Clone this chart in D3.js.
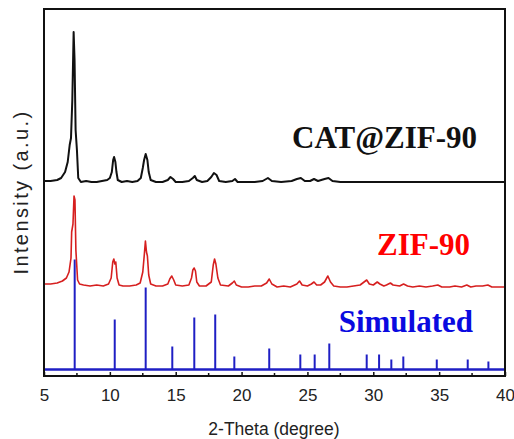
<!DOCTYPE html>
<html><head><meta charset="utf-8">
<script src="https://cdn.jsdelivr.net/npm/d3@7"></script>
<style>body{margin:0;background:#fff}</style>
</head><body>
<svg id="c" width="514" height="439"></svg>
<script>
// 2-Theta ticks
const xTicks = [5,10,15,20,25,30,35,40];
const xMinor = [7.5,12.5,17.5,22.5,27.5,32.5,37.5];
// Simulated stick pattern: positions and intensities (a.u.)
const simPos = [7.33,10.37,12.72,14.74,16.41,18.0,19.45,22.1,24.46,25.55,26.66,29.5,30.44,31.37,32.28,34.82,37.17,38.74];
const simInt = [110,50,82,23,52,55,13,21,15,15,26,15,15,10,13,10,10,8];
// ZIF-90 pattern
const zifX = [5.0,5.5,6.0,6.4,6.7,6.9,7.05,7.1,7.2,7.28,7.35,7.42,7.55,7.7,8.0,8.5,9.0,9.5,9.9,10.1,10.22,10.3,10.38,10.45,10.55,10.7,11.0,11.5,12.0,12.3,12.5,12.62,12.7,12.78,12.85,12.95,13.1,13.5,14.0,14.4,14.55,14.7,14.85,15.0,15.5,16.0,16.2,16.3,16.4,16.5,16.6,16.8,17.3,17.7,17.85,17.95,18.05,18.2,18.4,19.0,19.3,19.45,19.6,20.0,20.5,21.0,21.5,21.9,22.1,22.3,22.7,23.2,23.7,24.2,24.4,24.6,25.0,25.3,25.5,25.7,26.0,26.3,26.55,26.75,27.0,27.5,28.0,28.5,29.0,29.3,29.5,29.7,30.0,30.3,30.5,30.8,31.0,31.3,31.5,32.0,32.3,32.6,33.0,33.5,34.0,34.5,34.9,35.2,35.8,36.2,36.7,37.1,37.4,37.8,38.3,38.7,39.0,39.5,40.0];
const zifY = [2,2,3,5,8,14,28,54,62,90,86,36,6,2,1,0,1,0,2,8,24,27,22,24,8,1,0,0,1,3,14,32,45,34,30,11,2,0,0,2,7,10,6,1,0,1,8,16,18,15,4,0,0,4,21,27,22,8,1,0,3,5,1,-1,-1,0,0,3,7,2,-1,0,-1,2,5,1,0,2,4,1,1,4,10,4,0,-1,-1,0,1,4,6,2,1,4,2,0,1,3,1,0,2,0,-1,0,-1,0,1,-1,-1,0,-1,1,-1,0,0,1,-1,-1,-1];
// CAT@ZIF-90 pattern
const catX = [5.0,5.5,6.0,6.3,6.6,6.8,6.95,7.05,7.15,7.25,7.32,7.4,7.5,7.6,7.8,8.2,8.6,9.0,9.4,9.8,10.0,10.15,10.25,10.32,10.42,10.5,10.6,10.9,11.3,11.7,12.1,12.35,12.5,12.6,12.72,12.85,12.95,13.1,13.5,14.0,14.4,14.6,14.8,15.0,15.5,16.0,16.3,16.45,16.6,17.0,17.4,17.7,17.9,18.1,18.3,18.8,19.3,19.5,19.7,20.3,21.0,21.6,22.0,22.3,23.0,23.8,24.2,24.5,24.8,25.2,25.5,25.8,26.3,26.6,26.9,27.5,28.5,30,32,34,36,38,40];
const catY = [0,0,1,3,9,19,36,43,81,149,121,51,31,3,-1,0,-1,-1,0,1,3,9,21,24,19,9,1,-1,0,-1,0,3,13,21,27,21,9,1,-1,-1,1,4,2,-1,-1,0,3,5,1,-1,0,4,8,6,0,-1,0,2,-1,-1,-1,0,3,0,-1,0,2,3,0,0,2,0,2,3,0,-1,-1,-1,-1,-1,-1,-1,-1];
const offsets = {sim: 6.5, zif: 90, cat: 195};
const labels = ["CAT@ZIF-90","ZIF-90","Simulated"];

const L=44,R=505,T=9,B=376;
const svg = d3.select("#c");
const x = d3.scaleLinear().domain([5,40]).range([L,R]);
const y = d3.scaleLinear().domain([0,367]).range([B,T]);

// simulated baseline and sticks
svg.append("line").attr("x1",x(5)).attr("x2",x(40))
  .attr("y1",y(offsets.sim)).attr("y2",y(offsets.sim))
  .attr("stroke","#1f1fc4").attr("stroke-width",2.5);
svg.selectAll(".stick").data(simPos).join("line")
  .attr("x1",d=>x(d)).attr("x2",d=>x(d))
  .attr("y1",y(offsets.sim)).attr("y2",(d,i)=>y(offsets.sim+simInt[i]))
  .attr("stroke","#1f1fc4").attr("stroke-width",2);

const line = off => d3.line().x(d=>x(d[0])).y(d=>y(d[1]+off));
svg.append("path").datum(zifX.map((v,i)=>[v,zifY[i]]))
  .attr("d",line(offsets.zif)).attr("fill","none")
  .attr("stroke","#d61f1f").attr("stroke-width",1.6).attr("stroke-linejoin","round");
svg.append("path").datum(catX.map((v,i)=>[v,catY[i]]))
  .attr("d",line(offsets.cat)).attr("fill","none")
  .attr("stroke","#111").attr("stroke-width",2).attr("stroke-linejoin","round");

// frame
svg.append("rect").attr("x",L).attr("y",T).attr("width",R-L).attr("height",B-T)
  .attr("fill","none").attr("stroke","#111").attr("stroke-width",2);

// bottom axis, inward ticks
const ax = svg.append("g").attr("transform",`translate(0,${B})`)
  .call(d3.axisBottom(x).tickValues(xTicks).tickSize(-4).tickPadding(13).tickFormat(d3.format("d")));
ax.select(".domain").remove();
ax.selectAll("text").attr("font-family","Liberation Sans, Arial, sans-serif").attr("font-size",17).attr("fill","#222");
ax.selectAll("line").attr("stroke","#111").attr("stroke-width",1.5);
svg.append("g").selectAll("line").data(xMinor).join("line")
  .attr("x1",d=>x(d)).attr("x2",d=>x(d)).attr("y1",B).attr("y2",B-3)
  .attr("stroke","#111").attr("stroke-width",1.5);

svg.append("text").attr("x",274).attr("y",435).attr("text-anchor","middle")
  .attr("font-family","Liberation Sans, Arial, sans-serif").attr("font-size",17.5).attr("fill","#222")
  .text("2-Theta (degree)");
svg.append("text").attr("transform","translate(28,192) rotate(-90)").attr("text-anchor","middle")
  .attr("font-family","Liberation Sans, Arial, sans-serif").attr("font-size",20).attr("letter-spacing",2.4).attr("fill","#222")
  .text("Intensity (a.u.)");

// series labels
const lab = [[477,148,"#111"],[470,255,"#ff0000"],[473,332,"#0a0ae0"]];
labels.forEach((t,i)=>{
  svg.append("text").attr("x",lab[i][0]).attr("y",lab[i][1]).attr("text-anchor","end")
    .attr("font-family","Liberation Serif, Times New Roman, serif").attr("font-weight","bold")
    .attr("font-size",31).attr("fill",lab[i][2]).text(t);
});
</script>
</body></html>
